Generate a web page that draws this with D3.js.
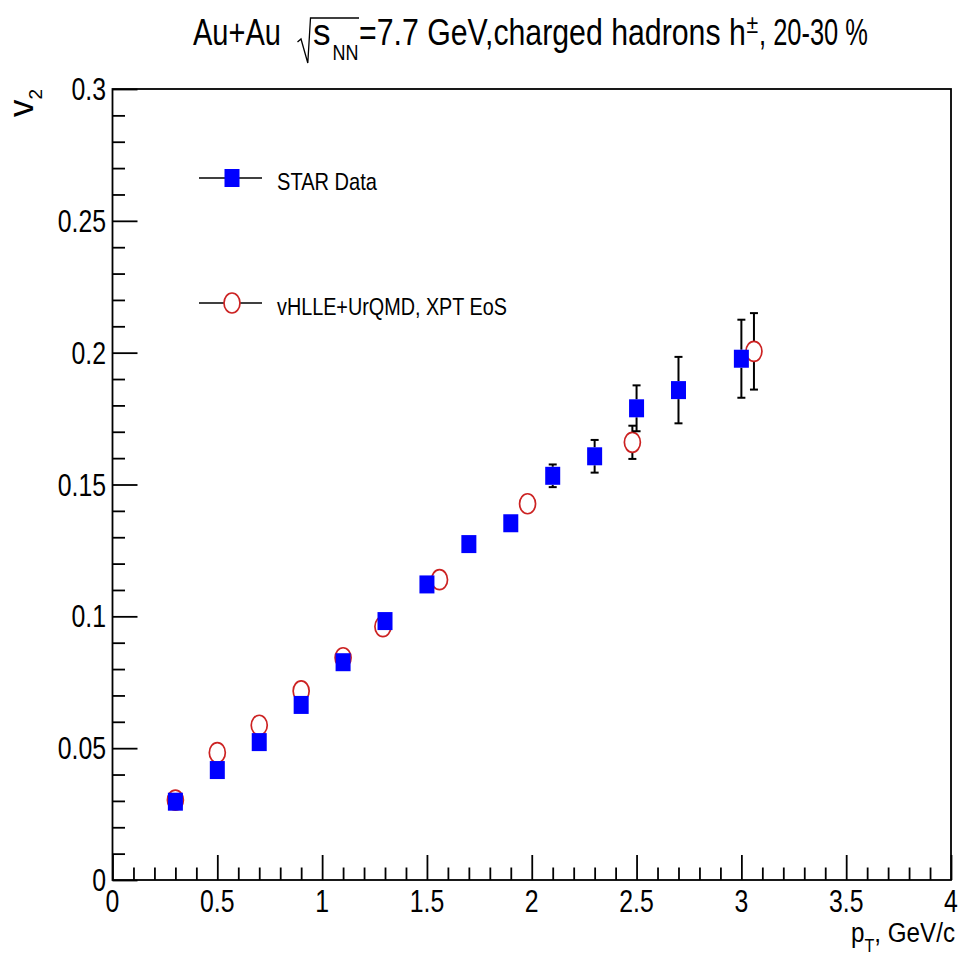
<!DOCTYPE html>
<html>
<head>
<meta charset="utf-8">
<script src="https://cdn.jsdelivr.net/npm/d3@7"></script>
<style>
  html, body { margin: 0; padding: 0; background: #fff; }
  svg { display: block; font-family: "Liberation Sans", Arial, Helvetica, sans-serif; }
</style>
</head>
<body>
<svg id="chart" width="961" height="955"></svg>
<script>
// STAR measurement: charged hadron v2 vs pT, Au+Au 7.7 GeV, 20-30 %
const starPt  = [0.3, 0.5, 0.7, 0.9, 1.1, 1.3, 1.5, 1.7, 1.9, 2.1, 2.3, 2.5, 2.7, 3.0];
const starV2  = [0.0297, 0.0417, 0.0523, 0.0664, 0.0826, 0.0982, 0.1121, 0.1274, 0.1353, 0.1533, 0.1607, 0.1789, 0.1858, 0.1977];
const starErr = [0.0008, 0.0008, 0.0009, 0.0010, 0.0012, 0.0014, 0.0016, 0.0019, 0.0025, 0.0043, 0.0062, 0.0087, 0.0126, 0.0148];

// vHLLE+UrQMD hybrid model with XPT equation of state
const modelPt  = [0.3, 0.5, 0.7, 0.9, 1.1, 1.29, 1.56, 1.98, 2.48, 3.06];
const modelV2  = [0.0303, 0.0483, 0.0587, 0.0717, 0.0843, 0.0961, 0.1139, 0.1427, 0.1660, 0.2005];
const modelErr = [0.0010, 0.0012, 0.0013, 0.0015, 0.0017, 0.0020, 0.0025, 0.0030, 0.0063, 0.0145];

const xTickValues = [0, 0.5, 1, 1.5, 2, 2.5, 3, 3.5, 4];
const xTickLabels = ["0", "0.5", "1", "1.5", "2", "2.5", "3", "3.5", "4"];
const yTickValues = [0, 0.05, 0.1, 0.15, 0.2, 0.25, 0.3];
const yTickLabels = ["0", "0.05", "0.1", "0.15", "0.2", "0.25", "0.3"];

const legendLabels = ["STAR Data", "vHLLE+UrQMD, XPT EoS"];

const svg = d3.select("#chart");
const frame = { left: 112.5, right: 951, top: 89, bottom: 880 };

const x = d3.scaleLinear().domain([0, 4]).range([frame.left, frame.right]);
const y = d3.scaleLinear().domain([0, 0.3]).range([frame.bottom, frame.top]);

const BLUE = "#0000ff";
const RED = "#cc2222";
const SQ_W = 15, SQ_H = 18;   // square marker
const EL_RX = 8, EL_RY = 10;  // open circle marker

// Text drawn condensed: either a fixed horizontal scale or fitted to a width
function label(parent, str, px, py, size, anchor, opts = {}) {
  const g = parent.append("g");
  const t = g.append("text")
    .attr("font-size", size)
    .attr("text-anchor", anchor)
    .attr("fill", "#000")
    .text(str);
  let sx = opts.scale || 1;
  if (opts.width) sx = opts.width / t.node().getComputedTextLength();
  g.attr("transform", `translate(${px},${py}) scale(${sx},1)`);
  return g;
}

// ---- axes frame ----
svg.append("rect")
  .attr("x", frame.left).attr("y", frame.top)
  .attr("width", frame.right - frame.left)
  .attr("height", frame.bottom - frame.top)
  .attr("fill", "none").attr("stroke", "#000").attr("stroke-width", 1.8);

// x axis ticks (major 0.5, minor 0.1), drawn inward
const xAxis = d3.axisBottom(x)
  .tickValues(d3.range(0, 4.0001, 0.1))
  .tickSize(0).tickFormat("");
const gx = svg.append("g").attr("transform", `translate(0,${frame.bottom})`).call(xAxis);
gx.select(".domain").remove();
gx.selectAll(".tick line")
  .attr("y2", (d) => Math.abs(d * 2 - Math.round(d * 2)) < 1e-6 ? -25 : -12.5)
  .attr("stroke", "#000").attr("stroke-width", 1.8);

// y axis ticks (major 0.05, minor 0.01), drawn inward
const yAxis = d3.axisLeft(y)
  .tickValues(d3.range(0, 0.30001, 0.01))
  .tickSize(0).tickFormat("");
const gy = svg.append("g").attr("transform", `translate(${frame.left},0)`).call(yAxis);
gy.select(".domain").remove();
gy.selectAll(".tick line")
  .attr("x2", (d) => Math.abs(d * 20 - Math.round(d * 20)) < 1e-6 ? 25 : 12.5)
  .attr("stroke", "#000").attr("stroke-width", 1.8);

// tick labels
const tickFont = 31, tickScale = 0.8;
xTickValues.forEach((v, i) => label(svg, xTickLabels[i], x(v), 912, tickFont, "middle", { scale: tickScale }));
yTickValues.forEach((v, i) => label(svg, yTickLabels[i], 106, y(v) + 11, tickFont, "end", { scale: tickScale }));

// axis titles
const yTitle = svg.append("g").attr("transform", `translate(33,${frame.top}) rotate(-90)`)
  .append("text").attr("text-anchor", "end").attr("font-size", 35);
yTitle.append("tspan").text("v");
yTitle.append("tspan").attr("font-size", 19).attr("dy", 9).text("2");

const xTitleG = svg.append("g");
const xTitle = xTitleG.append("text").attr("text-anchor", "end").attr("font-size", 27);
xTitle.append("tspan").text("p");
xTitle.append("tspan").attr("font-size", 18).attr("dy", 10).text("T");
xTitle.append("tspan").attr("dy", -10).text(", GeV/c");
{
  const w = xTitle.node().getComputedTextLength();
  xTitleG.attr("transform", `translate(955,941.5) scale(${104 / w},1)`);
}

// ---- title ----
const title = svg.append("g");
label(title, "Au+Au", 193, 45, 37, "start", { width: 88 });
title.append("path")
  .attr("d", "M297.5,42 L301,39 L307.8,63 L310.5,18 L359,18")
  .attr("fill", "none").attr("stroke", "#000").attr("stroke-width", 1.3);
label(title, "s", 313, 45, 37, "start", { scale: 0.95 });
label(title, "NN", 332.5, 60, 22, "start", { width: 26 });
label(title, "=7.7 GeV,charged hadrons h", 359, 45, 37, "start", { width: 387 });
label(title, "±", 746.5, 33, 25, "start", { scale: 0.85 });
label(title, ", 20-30 %", 759, 45, 37, "start", { width: 109 });

// ---- markers and error bars ----
function errorBars(g, pts, vals, errs, halfH) {
  pts.forEach((p, i) => {
    const cx = x(p), cy = y(vals[i]);
    const top = y(vals[i] + errs[i]), bot = y(vals[i] - errs[i]);
    if (cy - top > halfH) {
      g.append("line").attr("x1", cx).attr("x2", cx).attr("y1", top).attr("y2", cy - halfH);
      g.append("line").attr("x1", cx - 4).attr("x2", cx + 4).attr("y1", top).attr("y2", top);
    }
    if (bot - cy > halfH) {
      g.append("line").attr("x1", cx).attr("x2", cx).attr("y1", cy + halfH).attr("y2", bot);
      g.append("line").attr("x1", cx - 4).attr("x2", cx + 4).attr("y1", bot).attr("y2", bot);
    }
  });
}

const model = svg.append("g");
const modelBars = model.append("g").attr("stroke", "#000").attr("stroke-width", 2);
errorBars(modelBars, modelPt, modelV2, modelErr, EL_RY);
model.selectAll("ellipse").data(modelPt).join("ellipse")
  .attr("cx", (d) => x(d))
  .attr("cy", (d, i) => y(modelV2[i]))
  .attr("rx", EL_RX).attr("ry", EL_RY)
  .attr("fill", "none").attr("stroke", RED).attr("stroke-width", 1.7);

const star = svg.append("g");
const starBars = star.append("g").attr("stroke", "#000").attr("stroke-width", 2);
errorBars(starBars, starPt, starV2, starErr, SQ_H / 2);
star.selectAll("rect").data(starPt).join("rect")
  .attr("x", (d) => x(d) - SQ_W / 2)
  .attr("y", (d, i) => y(starV2[i]) - SQ_H / 2)
  .attr("width", SQ_W).attr("height", SQ_H)
  .attr("fill", BLUE);

// ---- legend ----
const legend = svg.append("g");
const legendRows = [178, 303];
legendRows.forEach((ly, i) => {
  legend.append("line").attr("x1", 199).attr("x2", 262).attr("y1", ly).attr("y2", ly)
    .attr("stroke", "#000").attr("stroke-width", 1.6);
  if (i === 0) {
    legend.append("rect").attr("x", 232 - SQ_W / 2).attr("y", ly - SQ_H / 2)
      .attr("width", SQ_W).attr("height", SQ_H).attr("fill", BLUE);
  } else {
    legend.append("ellipse").attr("cx", 232).attr("cy", ly).attr("rx", EL_RX).attr("ry", EL_RY)
      .attr("fill", "#fff").attr("stroke", RED).attr("stroke-width", 1.7);
  }
});
label(legend, legendLabels[0], 277, 189.5, 24, "start", { width: 100 });
label(legend, legendLabels[1], 277, 315, 24, "start", { width: 230 });
</script>
</body>
</html>
